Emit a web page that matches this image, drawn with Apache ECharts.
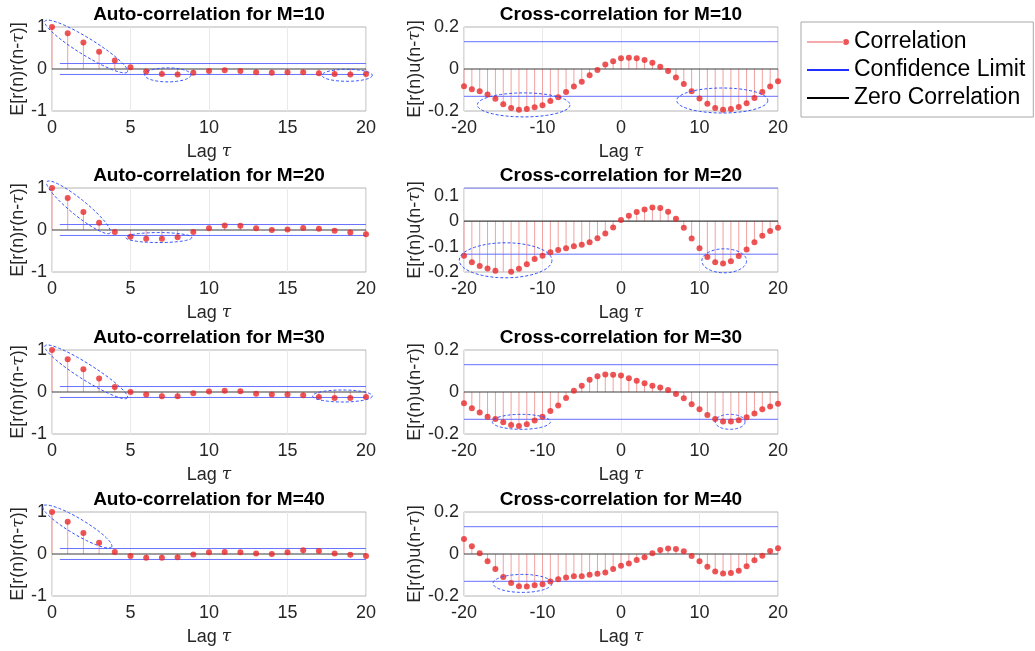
<!DOCTYPE html>
<html>
<head>
<meta charset="utf-8">
<title>Correlation analysis</title>
<script src="https://cdn.jsdelivr.net/npm/echarts@6/dist/echarts.min.js"></script>
<style>
  html, body { margin: 0; padding: 0; background: #fff; }
  #chart { width: 1035px; height: 651px; }
</style>
</head>
<body>
<div id="chart"></div>
<script>
// Lags
const autoLags = [0,1,2,3,4,5,6,7,8,9,10,11,12,13,14,15,16,17,18,19,20];
const crossLags = [-20,-19,-18,-17,-16,-15,-14,-13,-12,-11,-10,-9,-8,-7,-6,-5,-4,-3,-2,-1,0,
                   1,2,3,4,5,6,7,8,9,10,11,12,13,14,15,16,17,18,19,20];

// Residual auto-correlation E[r(n)r(n-tau)]
const autoM10 = [1.0,0.85,0.63,0.41,0.2,0.04,-0.06,-0.12,-0.13,-0.09,-0.05,-0.03,-0.05,-0.08,-0.09,-0.08,-0.08,-0.1,-0.12,-0.13,-0.12];
const autoM20 = [1.0,0.76,0.43,0.17,-0.05,-0.16,-0.21,-0.21,-0.17,-0.05,0.04,0.11,0.1,0.04,0.0,0.01,0.05,0.03,-0.02,-0.06,-0.1];
const autoM30 = [1.0,0.78,0.54,0.32,0.12,0.0,-0.06,-0.1,-0.1,-0.03,0.01,0.03,0.02,-0.04,-0.06,-0.06,-0.08,-0.12,-0.14,-0.14,-0.12];
const autoM40 = [1.0,0.77,0.5,0.27,0.05,-0.05,-0.09,-0.09,-0.08,-0.01,0.04,0.05,0.04,0.01,0.0,0.04,0.09,0.07,0.01,-0.02,-0.05];

// Residual/input cross-correlation E[r(n)u(n-tau)]
const crossM10 = [-0.082,-0.096,-0.106,-0.122,-0.142,-0.168,-0.186,-0.194,-0.19,-0.182,-0.173,-0.152,-0.134,-0.109,-0.083,-0.061,-0.03,-0.005,0.021,0.037,
                  0.051,
                  0.054,0.051,0.043,0.03,0.011,-0.01,-0.04,-0.072,-0.106,-0.141,-0.166,-0.186,-0.194,-0.19,-0.181,-0.163,-0.138,-0.109,-0.083,-0.058];
const crossM20 = [-0.136,-0.162,-0.176,-0.186,-0.195,-0.201,-0.199,-0.187,-0.17,-0.149,-0.136,-0.122,-0.114,-0.107,-0.099,-0.093,-0.083,-0.067,-0.049,-0.025,
                  0.004,
                  0.021,0.036,0.046,0.053,0.051,0.037,0.009,-0.026,-0.068,-0.107,-0.141,-0.162,-0.167,-0.158,-0.137,-0.112,-0.083,-0.058,-0.039,-0.026];
const crossM30 = [-0.053,-0.077,-0.098,-0.118,-0.128,-0.144,-0.157,-0.162,-0.154,-0.136,-0.118,-0.09,-0.064,-0.029,0.006,0.03,0.058,0.075,0.083,0.082,
                  0.078,
                  0.066,0.053,0.042,0.03,0.021,0.01,-0.01,-0.03,-0.058,-0.082,-0.109,-0.128,-0.141,-0.141,-0.134,-0.12,-0.102,-0.082,-0.069,-0.056];
const crossM40 = [0.072,0.037,0.003,-0.035,-0.072,-0.11,-0.138,-0.154,-0.155,-0.149,-0.144,-0.131,-0.12,-0.112,-0.106,-0.106,-0.099,-0.094,-0.088,-0.072,
                  -0.056,
                  -0.045,-0.029,-0.016,0.003,0.019,0.026,0.024,0.013,-0.01,-0.035,-0.061,-0.083,-0.093,-0.091,-0.08,-0.058,-0.03,-0.008,0.014,0.027];

// 95% confidence limit
const confidenceLimit = 0.13;

// Dashed highlight rings: [lagA, valueA, lagB, valueB, half-thickness px]
const autoM10Rings  = [[-0.45,1.14,4.8,-0.07,8.5],[5.9,-0.14,8.85,-0.14,7],[17.2,-0.15,20.4,-0.15,6]];
const crossM10Rings = [[-18.3,-0.171,-6.5,-0.171,12],[7.1,-0.15,18.7,-0.15,12.5]];
const autoM20Rings  = [[-0.32,1.15,3.7,-0.07,8],[4.7,-0.18,8.9,-0.18,5]];
const crossM20Rings = [[-20.6,-0.154,-8.8,-0.154,17.5],[10.3,-0.156,16,-0.156,12]];
const autoM30Rings  = [[-0.45,1.1,4.8,-0.14,8],[16.6,-0.095,20.4,-0.095,6]];
const crossM30Rings = [[-16.4,-0.142,-9,-0.142,7.5],[12,-0.142,15.8,-0.142,7.5]];
const autoM40Rings  = [[-0.57,1.14,3.8,0.17,8]];
const crossM40Rings = [[-16.3,-0.14,-8.8,-0.14,9]];

const FONT = '"Liberation Sans", Arial, Helvetica, sans-serif';
const TEXT_COLOR = '#262626';
const CONF_COLOR = '#6670ff';

const panels = [
  { title: 'Auto-correlation for M=10',  kind: 'auto',  values: autoM10,  rings: autoM10Rings,  y: [-1, 1, 1],        maxLabel: true },
  { title: 'Cross-correlation for M=10', kind: 'cross', values: crossM10, rings: crossM10Rings, y: [-0.2, 0.2, 0.2],  maxLabel: true },
  { title: 'Auto-correlation for M=20',  kind: 'auto',  values: autoM20,  rings: autoM20Rings,  y: [-1, 1, 1],        maxLabel: true },
  { title: 'Cross-correlation for M=20', kind: 'cross', values: crossM20, rings: crossM20Rings, y: [-0.2, 0.13, 0.1], maxLabel: false },
  { title: 'Auto-correlation for M=30',  kind: 'auto',  values: autoM30,  rings: autoM30Rings,  y: [-1, 1, 1],        maxLabel: true },
  { title: 'Cross-correlation for M=30', kind: 'cross', values: crossM30, rings: crossM30Rings, y: [-0.2, 0.2, 0.2],  maxLabel: true },
  { title: 'Auto-correlation for M=40',  kind: 'auto',  values: autoM40,  rings: autoM40Rings,  y: [-1, 1, 1],        maxLabel: true },
  { title: 'Cross-correlation for M=40', kind: 'cross', values: crossM40, rings: crossM40Rings, y: [-0.2, 0.2, 0.2],  maxLabel: true }
];

const rowTops = [27, 188, 350, 512];
const colLefts = [52, 464];
const plotW = 314, plotH = 84;

function stemItem(params, api) {
  const x = api.value(0), y = api.value(1);
  const p0 = api.coord([x, 0]);
  const p1 = api.coord([x, y]);
  return {
    type: 'line',
    shape: { x1: p0[0], y1: p0[1], x2: p1[0], y2: p1[1] },
    style: { stroke: '#f3a0a0', lineWidth: 1 }
  };
}

function ringItem(params, api) {
  const a = api.coord([api.value(0), api.value(1)]);
  const b = api.coord([api.value(2), api.value(3)]);
  const minor = api.value(4);
  const cx = (a[0] + b[0]) / 2, cy = (a[1] + b[1]) / 2;
  const major = Math.hypot(b[0] - a[0], b[1] - a[1]) / 2;
  const ang = Math.atan2(b[1] - a[1], b[0] - a[0]);
  const pts = [];
  for (let k = 0; k < 90; k++) {
    const t = k / 90 * Math.PI * 2;
    const ex = major * Math.cos(t), ey = minor * Math.sin(t);
    pts.push([cx + ex * Math.cos(ang) - ey * Math.sin(ang),
              cy + ex * Math.sin(ang) + ey * Math.cos(ang)]);
  }
  return {
    type: 'polygon',
    shape: { points: pts },
    style: { fill: 'none', stroke: '#3050ff', lineWidth: 1, lineDash: [3, 2] }
  };
}

const grids = [], xAxes = [], yAxes = [], titles = [], series = [];

panels.forEach((p, i) => {
  const row = Math.floor(i / 2), col = i % 2;
  const left = colLefts[col], top = rowTops[row];
  const lags = p.kind === 'auto' ? autoLags : crossLags;
  const xMin = lags[0], xMax = lags[lags.length - 1];
  const isAuto = p.kind === 'auto';

  grids.push({
    left: left, top: top, width: plotW, height: plotH,
    show: true, borderColor: '#b4b4b4', borderWidth: 1, backgroundColor: '#fff'
  });

  titles.push({
    text: p.title, left: left + plotW / 2, top: top - 22, textAlign: 'center', padding: 0,
    textStyle: { fontFamily: FONT, fontSize: 19, fontWeight: 'bold', color: '#000' }
  });

  xAxes.push({
    type: 'value', gridIndex: i, min: xMin, max: xMax, interval: isAuto ? 5 : 10,
    axisLine: { show: false },
    axisTick: { show: false },
    splitLine: { show: true, lineStyle: { color: '#e9e9e9', width: 1 } },
    axisLabel: { fontFamily: FONT, fontSize: 18, color: TEXT_COLOR, margin: 8 },
    name: 'Lag {i|τ}', nameLocation: 'middle', nameGap: 32,
    nameTextStyle: {
      fontFamily: FONT, fontSize: 18, color: TEXT_COLOR,
      rich: { i: { fontFamily: '"DejaVu Serif", serif', fontStyle: 'italic', fontSize: 17, color: TEXT_COLOR } }
    }
  });

  yAxes.push({
    type: 'value', gridIndex: i, min: p.y[0], max: p.y[1], interval: p.y[2],
    axisLine: { show: false },
    axisTick: { show: false },
    splitLine: { show: false },
    axisLabel: { fontFamily: FONT, fontSize: 18, color: TEXT_COLOR, margin: 5, showMaxLabel: p.maxLabel },
    name: isAuto ? 'E[r(n)r(n-{i|τ})]' : 'E[r(n)u(n-{i|τ})]',
    nameLocation: 'middle', nameGap: isAuto ? 23 : 40, nameRotate: 90,
    nameTextStyle: {
      fontFamily: FONT, fontSize: 18, color: TEXT_COLOR,
      rich: { i: { fontFamily: '"DejaVu Serif", serif', fontStyle: 'italic', fontSize: 17, color: TEXT_COLOR } }
    }
  });

  const pts = lags.map((x, k) => [x, p.values[k]]);
  const confStart = isAuto ? 0.5 : xMin;

  series.push({
    type: 'custom', name: 'stems', xAxisIndex: i, yAxisIndex: i,
    renderItem: stemItem, data: pts, encode: { x: 0, y: 1 }, z: 1, silent: true
  });
  series.push({
    type: 'line', name: 'Confidence Limit', xAxisIndex: i, yAxisIndex: i,
    data: [[confStart, confidenceLimit], [xMax, confidenceLimit]],
    symbol: 'none', lineStyle: { color: CONF_COLOR, width: 1 }, itemStyle: { color: CONF_COLOR }, z: 2, silent: true
  });
  series.push({
    type: 'line', name: 'Confidence Limit', xAxisIndex: i, yAxisIndex: i,
    data: [[confStart, -confidenceLimit], [xMax, -confidenceLimit]],
    symbol: 'none', lineStyle: { color: CONF_COLOR, width: 1 }, itemStyle: { color: CONF_COLOR }, z: 2, silent: true
  });
  series.push({
    type: 'line', name: 'Zero Correlation', xAxisIndex: i, yAxisIndex: i,
    data: [[xMin, 0], [xMax, 0]],
    symbol: 'none', lineStyle: { color: '#3c3c3c', width: 1.2 }, itemStyle: { color: '#000' }, z: 3, silent: true
  });
  series.push({
    type: 'scatter', name: 'Correlation', xAxisIndex: i, yAxisIndex: i,
    data: pts, symbol: 'circle', symbolSize: 6,
    itemStyle: { color: '#e8292b' }, z: 4, silent: true
  });
  series.push({
    type: 'custom', name: 'rings', xAxisIndex: i, yAxisIndex: i,
    renderItem: ringItem, data: p.rings, clip: false, z: 5, silent: true,
    encode: { x: 0, y: 1 }
  });
});

const option = {
  animation: false,
  backgroundColor: '#fff',
  title: titles,
  grid: grids,
  xAxis: xAxes,
  yAxis: yAxes,
  legend: {
    orient: 'vertical', left: 801, top: 22,
    padding: [7, 8, 6, 6], itemGap: 2, itemWidth: 42, itemHeight: 10,
    borderColor: '#a8a8a8', borderWidth: 1, backgroundColor: '#fff',
    selectedMode: false,
    textStyle: { fontFamily: FONT, fontSize: 23, color: '#000', lineHeight: 26 },
    data: [
      { name: 'Correlation', icon: 'path://M0,0M42,10M0,4.6H37V5.4H0Z M36,5a3,3 0 1,0 6,0a3,3 0 1,0 -6,0Z', itemStyle: { color: '#e8292b' } },
      { name: 'Confidence Limit', icon: 'path://M0,0M42,10M0,4H42V6H0Z', itemStyle: { color: '#2230ff' } },
      { name: 'Zero Correlation', icon: 'path://M0,0M42,10M0,4H42V6H0Z', itemStyle: { color: '#000' } }
    ]
  },
  series: series
};

const chart = echarts.init(document.getElementById('chart'), null, { renderer: 'canvas' });
chart.setOption(option);
</script>
</body>
</html>
